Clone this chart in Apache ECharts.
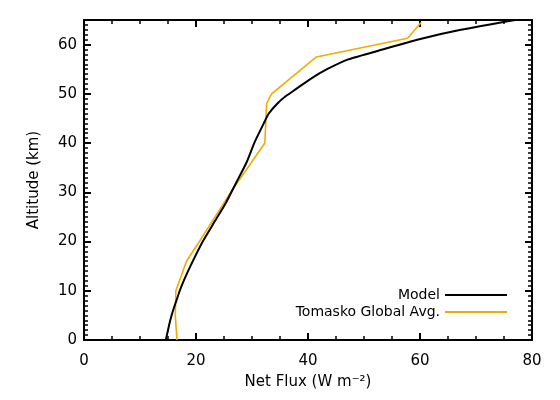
<!DOCTYPE html>
<html>
<head>
<meta charset="utf-8">
<script src="https://cdn.jsdelivr.net/npm/echarts@6/dist/echarts.min.js"></script>
<style>
  html, body { margin: 0; padding: 0; background: #fff; }
  #chart { width: 560px; height: 400px; }
</style>
</head>
<body>
<div id="chart"></div>
<script>
// Model net flux profile (W m^-2) vs altitude (km)
const modelAlt  = [0, 2, 4, 6, 8, 10, 12, 15, 20, 24, 28, 32, 36, 40, 44, 46, 48, 49.5, 51, 53, 55, 57, 59, 61, 63, 65];
const modelFlux = [14.6, 15.0, 15.4, 15.9, 16.5, 17.1, 17.8, 19.0, 21.2, 23.3, 25.4, 27.2, 29.0, 30.4, 32.1, 33.0, 34.5, 36.0, 37.9, 40.4, 43.4, 47.2, 53.3, 59.5, 67.3, 77.0];

// Tomasko global average
const tomaskoAlt  = [0, 5, 10, 16, 20, 30, 40, 48, 50, 57.5, 61.3, 64.5];
const tomaskoFlux = [16.6, 16.3, 16.4, 18.3, 20.6, 26.2, 32.3, 32.6, 33.5, 41.5, 57.8, 60.2];

const seriesNames = ["Model", "Tomasko Global Avg."];

const FONT = "DejaVu Sans";

const chart = echarts.init(document.getElementById("chart"));

const zip = (xs, ys) => xs.map((x, i) => [x, ys[i]]);

// IDL style box: inward ticks on all four sides, fresh objects per axis
const boxAxis = (pos, max, minorSplit) => ({
  type: "value", min: 0, max: max, interval: max === 80 ? 20 : 10, position: pos,
  axisLine: { show: true, onZero: false, lineStyle: { color: "#000", width: 2 } },
  axisTick: { show: true, inside: true, length: 7, lineStyle: { color: "#000", width: 2 } },
  minorTick: { show: true, splitNumber: minorSplit, length: 4, lineStyle: { color: "#000", width: 1.5 } },
  axisLabel: { show: false },
  splitLine: { show: false }
});

const xMain = boxAxis("bottom", 80, 4);
xMain.name = "Net Flux (W m⁻²)";
xMain.nameLocation = "middle";
xMain.nameGap = 35;
xMain.nameTextStyle = { fontFamily: FONT, fontSize: 15, color: "#000" };
xMain.axisLabel = { show: true, fontFamily: FONT, fontSize: 15, color: "#000", margin: 14 };

const yMain = boxAxis("left", 65, 10);
yMain.name = "Altitude (km)";
yMain.nameLocation = "middle";
yMain.nameGap = 42;
yMain.nameTextStyle = { fontFamily: FONT, fontSize: 15, color: "#000" };
yMain.axisLabel = { show: true, fontFamily: FONT, fontSize: 15, color: "#000", margin: 7, showMaxLabel: false };

// one legend row per series, text to the left of the line sample
const legendRow = (name, top) => ({
  align: "right",
  right: 53,
  top: top,
  padding: 0,
  itemWidth: 62,
  itemHeight: 2,
  icon: "rect",
  textStyle: { fontFamily: FONT, fontSize: 14, color: "#000" },
  data: [name]
});

const option = {
  backgroundColor: "#fff",
  animation: false,
  textStyle: { fontFamily: FONT, color: "#000" },
  grid: { left: 84, right: 28, top: 20, bottom: 60 },
  legend: [legendRow(seriesNames[0], 288), legendRow(seriesNames[1], 305)],
  xAxis: [xMain, boxAxis("top", 80, 4)],
  yAxis: [yMain, boxAxis("right", 65, 10)],
  series: [
    {
      name: seriesNames[1],
      type: "line",
      data: zip(tomaskoFlux, tomaskoAlt),
      symbol: "none",
      color: "#f0ac00",
      lineStyle: { color: "#f0ac00", width: 1.6 }
    },
    {
      name: seriesNames[0],
      type: "line",
      data: zip(modelFlux, modelAlt),
      symbol: "none",
      smooth: 0.2,
      color: "#000",
      lineStyle: { color: "#000", width: 2 }
    }
  ]
};

chart.setOption(option);
</script>
</body>
</html>
